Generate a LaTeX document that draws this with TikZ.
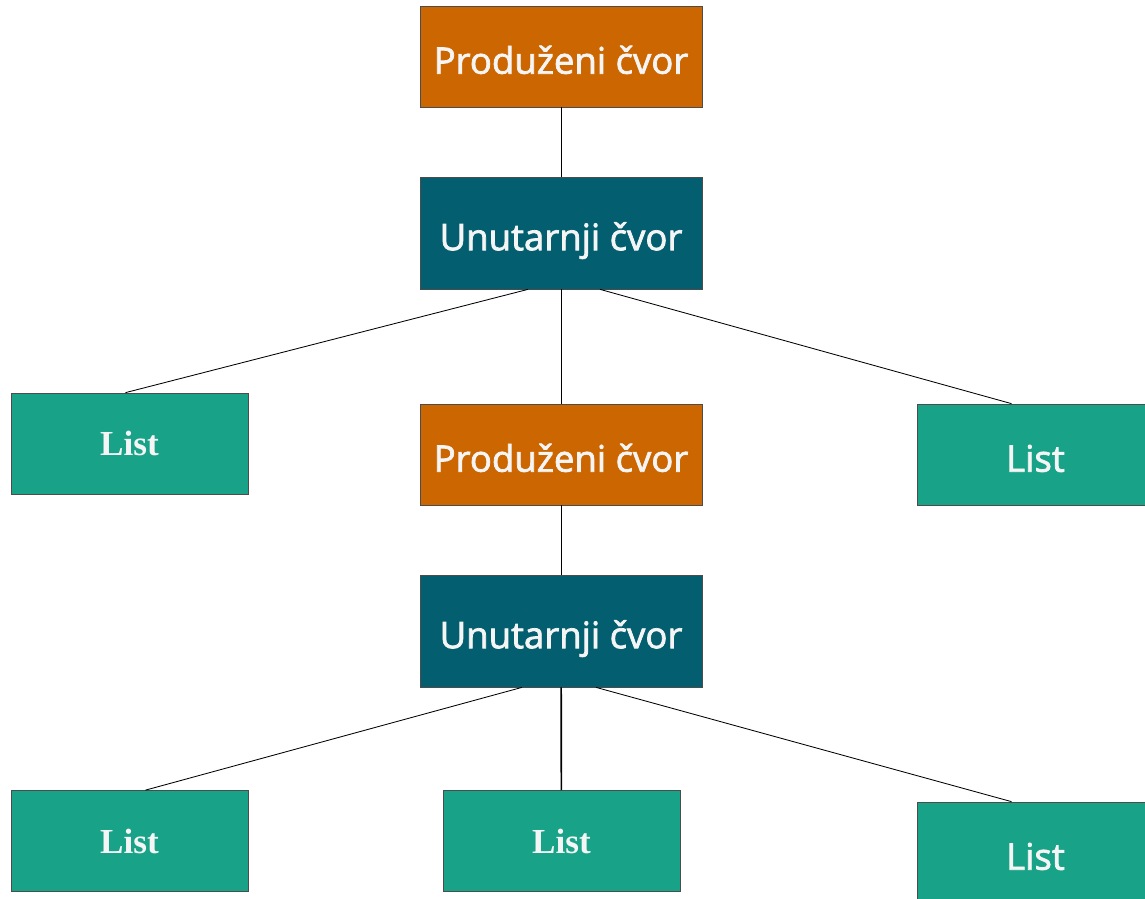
\documentclass[tikz,border=0pt]{standalone}
\usepackage{fontspec}
\setmainfont{Liberation Serif}
\setsansfont{Open Sans}[FakeBold=2]
\usepackage{tikz}
\usepackage{xcolor}
\definecolor{extcolor}{RGB}{204,102,0}
\definecolor{innercolor}{RGB}{3,95,112}
\definecolor{leafcolor}{RGB}{24,163,136}
\colorlet{bordercolor}{black!70}
\usetikzlibrary{
  positioning,
}
\tikzstyle{basicblock}=[draw=bordercolor, line width=0.5pt, rectangle, text=white!96!black, minimum width=7.05cm, inner sep=0pt]
\tikzstyle{sanstext}=[font=\sffamily\fontsize{26}{30}\selectfont, text height=0.86cm, text depth=0pt]
\tikzstyle{extblock}=[basicblock, sanstext, fill=extcolor, minimum height=2.525cm]
\tikzstyle{innerblock}=[basicblock, sanstext, fill=innercolor, minimum height=2.8cm]
\tikzstyle{leafblock}=[basicblock, fill=leafcolor, minimum width=5.925cm, minimum height=2.525cm, font=\rmfamily\bfseries\fontsize{25}{30}\selectfont]
\tikzstyle{sansleafblock}=[leafblock, sanstext]
\tikzstyle{edge}=[line width=0.6pt, black]

\begin{document}
\begin{tikzpicture}[x=0.025cm, y=-0.025cm]
	\useasboundingbox (0,0) rectangle (1145,899);
	\node (topext) [extblock] at (561,56.5) {Produženi čvor};
	\path (topext) + (0,176.5) node (topinner) [innerblock] {Unutarnji čvor};
	\path (topinner) + (-431.5,210.5) node (leftleaf) [leafblock] {List};
	\path (topinner) + (0,221.5) node (midext) [extblock] {Produženi čvor};
	\path (midext) + (474.5,0) node (rightleaf) [sansleafblock] {List};
	\path (midext) + (0,176.5) node (midinner) [innerblock] {Unutarnji čvor};
	\path (midinner) + (-431.5,210) node (lowleft) [leafblock] {List};
	\path (midinner) + (0.5,210) node (lowmid) [leafblock] {List};
	\path (midinner) + (474.5,221.5) node (lowright) [sansleafblock] {List};
	\draw [edge] (topext) -- (topinner);
	\draw [edge] ([xshift=-0.825cm]topinner.south) -- ([xshift=-0.1cm]leftleaf.north);
	\draw [edge] (topinner) -- (midext);
	\draw [edge] ([xshift=0.975cm]topinner.south) -- ([xshift=-0.6cm]rightleaf.north);
	\draw [edge] (midext) -- (midinner);
	\draw [edge] ([xshift=-0.975cm]midinner.south) -- ([xshift=0.4cm]lowleft.north);
	\draw [edge, line width=1.2pt] (midinner) -- (lowmid);
	\draw [edge] ([xshift=0.875cm]midinner.south) -- ([xshift=-0.6cm]lowright.north);
\end{tikzpicture}
\end{document}
